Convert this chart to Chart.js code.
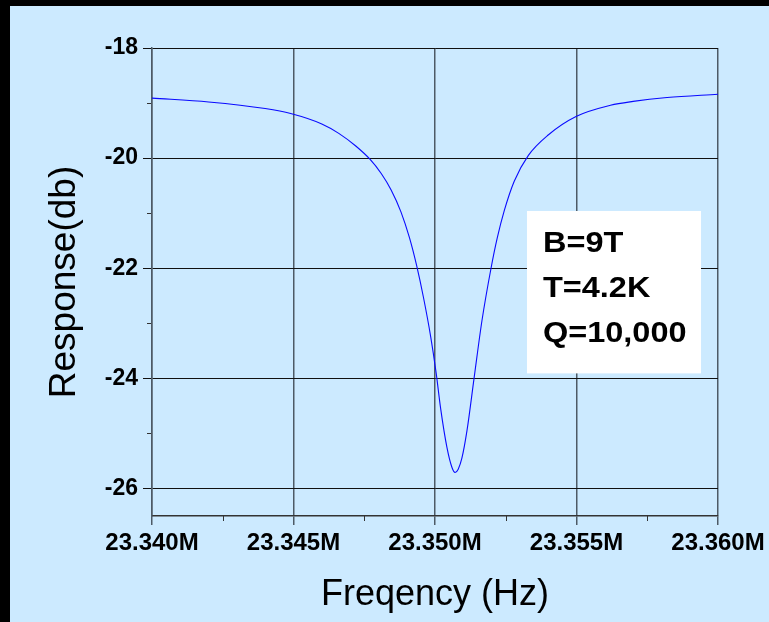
<!DOCTYPE html>
<html>
<head>
<meta charset="utf-8">
<script src="https://cdn.jsdelivr.net/npm/chart.js@4/dist/chart.umd.min.js"></script>
<style>
  body { margin: 0; background: #000; width: 769px; height: 622px; overflow: hidden; }
  #box { position: absolute; left: 10px; top: 6px; width: 759px; height: 616px; background: #cceaff; }
</style>
</head>
<body>
<div id="box"><canvas id="myChart" width="759" height="616"></canvas></div>
<script>
// datos (frecuencia en MHz, respuesta en dB)
const freqMHz = [23.3400, 23.3420, 23.3440, 23.3449, 23.3460, 23.3466, 23.3472, 23.3477, 23.3481, 23.34845,
  23.3488, 23.3491, 23.34935, 23.3496, 23.34985, 23.35004, 23.3502, 23.35042, 23.3506, 23.35071,
  23.35082, 23.35095, 23.35113, 23.35138, 23.35166, 23.35198, 23.3522, 23.35245, 23.3528, 23.3533,
  23.3540, 23.3550, 23.3562, 23.3570, 23.3582, 23.3600];
const responseDb = [-18.91, -18.98, -19.10, -19.19, -19.38, -19.55, -19.78, -20.02, -20.28, -20.58,
  -20.98, -21.45, -21.95, -22.55, -23.25, -23.90, -24.55, -25.25, -25.62, -25.71,
  -25.65, -25.45, -24.95, -24.00, -22.95, -22.00, -21.45, -20.95, -20.42, -19.95,
  -19.58, -19.24, -19.04, -18.97, -18.90, -18.84];
const xTicks = [23.340, 23.345, 23.350, 23.355, 23.360];
const xMinor = [23.3425, 23.3475, 23.3525, 23.3575];
const yTicks = [-18, -20, -22, -24, -26];
const yMinor = [-19, -21, -23, -25];
const infoLines = ['B=9T', 'T=4.2K', 'Q=10,000'];

const fuente = "'Liberation Sans', Arial, sans-serif";

// ticks menores y recuadro de texto
const extras = {
  id: 'extras',
  afterDatasetsDraw(chart) {
    const ctx = chart.ctx;
    const xs = chart.scales.x, ys = chart.scales.y;
    const a = chart.chartArea;
    ctx.save();
    // recuadro blanco
    const x0 = xs.getPixelForValue(23.35325), x1 = xs.getPixelForValue(23.3594);
    const y0 = ys.getPixelForValue(-20.96), y1 = ys.getPixelForValue(-23.91);
    ctx.fillStyle = '#ffffff';
    ctx.fillRect(x0, y0, x1 - x0, y1 - y0);
    ctx.fillStyle = '#000';
    ctx.font = 'bold 29px ' + fuente;
    ctx.textBaseline = 'middle';
    infoLines.forEach((t, i) => {
      ctx.save();
      ctx.translate(x0 + 16, y0 + 33 + i * 45);
      ctx.scale(1.12, 1);
      ctx.fillText(t, 0, 0);
      ctx.restore();
    });
    // ticks menores
    ctx.strokeStyle = '#333';
    ctx.lineWidth = 1;
    ctx.beginPath();
    xMinor.forEach(v => {
      const px = Math.round(xs.getPixelForValue(v)) + 0.5;
      ctx.moveTo(px, a.bottom);
      ctx.lineTo(px, a.bottom + 5);
    });
    yMinor.forEach(v => {
      const py = Math.round(ys.getPixelForValue(v)) + 0.5;
      ctx.moveTo(a.left - 5, py);
      ctx.lineTo(a.left - 1, py);
    });
    ctx.stroke();
    ctx.restore();
  }
};

const ctx = document.getElementById('myChart');
var myChart = new Chart(ctx, {
  type: 'line',
  data: {
    datasets: [{
      label: 'Response',
      data: freqMHz.map((f, i) => ({ x: f, y: responseDb[i] })),
      borderColor: '#0a0aff',
      borderWidth: 1.1,
      pointRadius: 0,
      cubicInterpolationMode: 'monotone',
      fill: false
    }]
  },
  options: {
    responsive: false,
    animation: false,
    layout: { padding: { top: 42, right: 51, left: 0, bottom: 0 } },
    plugins: { legend: { display: false }, tooltip: { enabled: false } },
    scales: {
      x: {
        type: 'linear',
        min: 23.340,
        max: 23.360,
        afterBuildTicks: s => { s.ticks = xTicks.map(v => ({ value: v })); },
        afterFit: s => { s.height = 106; },
        ticks: {
          callback: v => v.toFixed(3) + 'M',
          color: '#000',
          font: { family: fuente, size: 24, weight: 'bold' },
          padding: 4,
          maxRotation: 0,
          autoSkip: false
        },
        grid: { color: '#4d5a66', lineWidth: 1.5, tickLength: 9 },
        border: { color: '#333', width: 1.5 },
        title: {
          display: true,
          text: 'Freqency (Hz)',
          color: '#000',
          font: { family: fuente, size: 36 },
          padding: { top: 0, bottom: 5 }
        }
      },
      y: {
        type: 'linear',
        min: -26.5,
        max: -18,
        afterBuildTicks: s => { s.ticks = yTicks.map(v => ({ value: v })); },
        afterFit: s => { s.width = 142; },
        ticks: {
          color: '#000',
          font: { family: fuente, size: 23, weight: 'bold' },
          padding: 5
        },
        grid: { color: '#111', lineWidth: 1, tickLength: 9 },
        border: { color: '#4d5a66', width: 1.5 },
        title: {
          display: true,
          text: 'Response(db)',
          color: '#000',
          font: { family: fuente, size: 37 },
          padding: { top: 33, bottom: 0 }
        }
      }
    }
  },
  plugins: [extras]
});
</script>
</body>
</html>
